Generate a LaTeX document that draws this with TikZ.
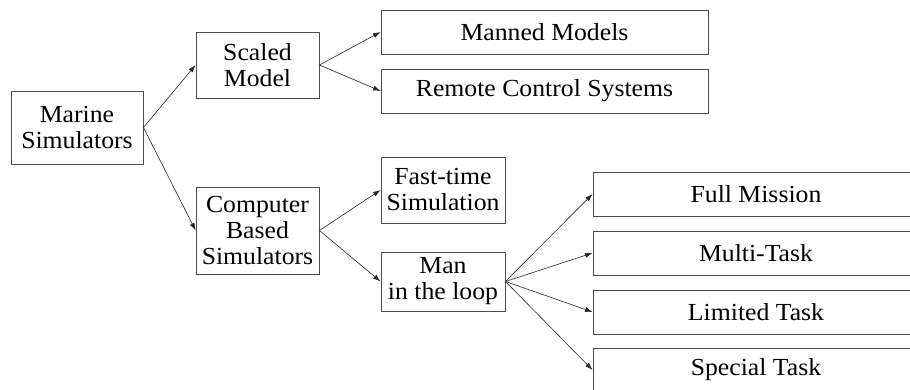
\documentclass[tikz,border=0pt]{standalone}
\usepackage{fontspec}
\setmainfont{Liberation Serif}[FakeStretch=1.05]
\usetikzlibrary{arrows.meta}

\tikzset{
  simbox/.style={draw=black!70, line width=0.9pt, align=center, inner sep=0pt,
    font=\fontsize{24.5}{26}\selectfont},
  link/.style={draw=black!85, line width=0.6pt, -{Latex[length=7.5pt,width=5pt]}}
}

\begin{document}
\begin{tikzpicture}[x=1pt,y=1pt]
\clip (0,0) rectangle (910,390);

% root
\node[simbox, minimum width=132, minimum height=73] (marine) at (77,262.5) {Marine\\Simulators};

% first level
\node[simbox, minimum width=123, minimum height=66] (scaled) at (257.5,325) {Scaled\\Model};
\node[simbox, minimum width=123, minimum height=87] (computer) at (257.5,159.5) {Computer\\Based\\Simulators};

% second level
\node[simbox, minimum width=327, minimum height=44] (manned) at (544.5,358) {Manned Models};
\node[simbox, minimum width=327, minimum height=44] (remote) at (544.5,299) {Remote Control Systems};
\node[simbox, minimum width=124, minimum height=66] (fasttime) at (443,200) {Fast-time\\Simulation};
\node[simbox, minimum width=124, minimum height=59] (maninloop) at (443,108.5) {Man\\in the loop};

% third level
\node[simbox, minimum width=326, minimum height=44] (full) at (756,196) {Full Mission};
\node[simbox, minimum width=326, minimum height=44] (multi) at (756,137) {Multi-Task};
\node[simbox, minimum width=326, minimum height=44] (limited) at (756,78) {Limited Task};
\node[simbox, minimum width=326, minimum height=44] (special) at (756,20) {Special Task};

% arrows
\draw[link] (marine.east) -- (scaled.west);
\draw[link] (marine.east) -- (computer.west);
\draw[link] (scaled.east) -- (manned.west);
\draw[link] (scaled.east) -- (remote.west);
\draw[link] (computer.east) -- (fasttime.west);
\draw[link] (computer.east) -- (maninloop.west);
\foreach \n in {full,multi,limited,special}
  \draw[link] (maninloop.east) -- (\n.west);
\end{tikzpicture}
\end{document}
